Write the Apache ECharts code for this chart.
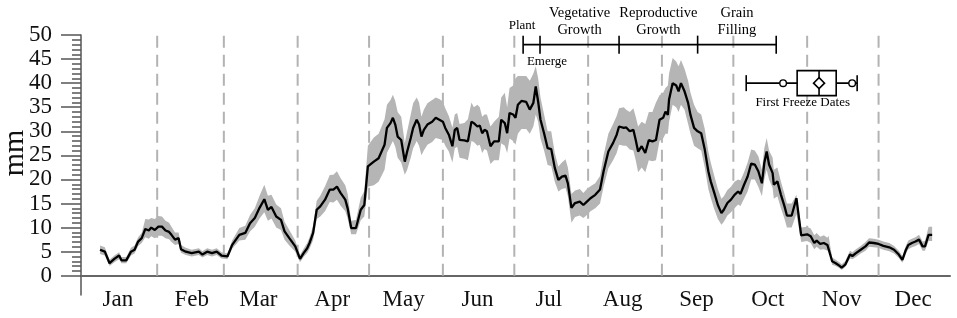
<!DOCTYPE html>
<html>
<head>
<meta charset="utf-8">
<script src="https://cdn.jsdelivr.net/npm/echarts@6/dist/echarts.min.js"></script>
<style>
html, body { margin: 0; padding: 0; background: #fff; }
#main { width: 957px; height: 318px; }
</style>
</head>
<body>
<div id="main"></div>
<script>
// months and first day of each month (day of year)
var months = ['Jan', 'Feb', 'Mar', 'Apr', 'May', 'Jun', 'Jul', 'Aug', 'Sep', 'Oct', 'Nov', 'Dec'];
var monthStart = [1, 32, 60, 91, 121, 152, 182, 213, 244, 274, 305, 335];

// daily series: day of year, mean, band low, band high
var days = [
    8, 10, 12, 14, 16, 17, 19, 21, 22.5, 24, 25.5,
    27, 28.5, 29.5, 31, 32.5, 34, 35.5, 37, 38, 39.5, 41,
    42, 44, 46.5, 49.5, 51, 53, 55, 57, 59, 61.5, 63.5,
    66.5, 69, 71, 73, 75, 77, 78.5, 80, 82, 84, 85.5,
    87.5, 90, 92, 93.5, 95, 96, 97.5, 99, 100.5, 102.5, 104.5,
    106, 107.5, 109, 111, 112, 113.5, 115.5, 117.5, 119, 120.5,
    123, 125, 127.5, 128.5, 130, 131, 132, 133, 134.5, 136,
    137, 138.5, 139.5, 141, 142, 143, 144, 145.5, 147.5, 149,
    150.5, 152, 153, 154.5, 156, 157, 158, 159, 161, 162.5,
    164, 165, 166.5, 167.5, 168.5, 169.5, 170.5, 172, 173.5, 175.5,
    176.5, 178, 179, 180, 181.5, 182.5, 183.5, 185, 187, 188.5,
    190, 191, 192, 193, 194.5, 196, 197.5, 199, 200.5, 202,
    203.5, 204.5, 206, 207.5, 209.5, 211, 212.5, 214, 216, 218,
    219.5, 221.5, 223.5, 225, 226, 228, 229, 230.5, 232, 233,
    234, 235.5, 237, 238.5, 240,
    241.5, 243, 244.5, 245.5, 246.5, 247, 248.5, 250, 251, 252,
    253.5, 255, 256, 257.5, 259, 260.5, 262, 263.5, 264.5, 266,
    267.5, 269, 270, 271.5, 273, 274.5, 276, 277, 278.5, 280,
    281.5, 283, 284.5, 286, 287, 288, 289, 290.5, 291, 292.5,
    294, 295.5, 296.5, 298.5, 300.5,
    302.5, 305, 306.5, 308, 309, 310.5, 312, 313.5, 314, 315.5,
    317, 318.5, 319.5, 321, 323, 324, 325.5, 327.5, 329.5, 331,
    333, 335, 337, 339.5, 341.5, 343.5, 345, 346.5, 347.5, 349,
    350.5, 352, 353.5, 354.5, 356, 357.5
];
var meanVal = [
    5.4, 5.0, 2.6, 3.5, 4.2, 3.2, 3.2, 5.0, 5.4, 7.1, 7.8,
    9.7, 9.4, 10.0, 9.5, 10.2, 10.2, 9.4, 9.1, 8.5, 7.5, 7.8,
    5.5, 5.0, 4.7, 5.0, 4.4, 5.0, 4.7, 5.0, 4.2, 4.0, 6.4,
    8.5, 8.9, 10.9, 12.0, 14.1, 15.9, 13.7, 14.3, 12.3, 11.6, 9.2,
    7.8, 6.1, 3.5, 4.7, 5.7, 6.8, 8.9, 13.7, 14.4, 15.8, 17.9,
    17.9, 18.5, 17.2, 15.8, 14.0, 9.9, 9.9, 13.7, 14.7, 22.7,
    23.7, 24.4, 27.2, 30.7, 31.7, 32.8, 31.4, 28.9, 28.2, 23.7,
    25.8, 28.6, 30.7, 32.4, 31.4, 28.9, 30.3, 31.4, 32.0, 32.8,
    32.4, 32.0, 30.7, 29.3, 26.9, 30.3, 30.7, 28.2, 28.1, 27.9,
    32.0, 31.7, 31.0, 31.2, 29.6, 30.3, 30.0, 26.9, 27.9, 27.9,
    32.4, 31.7, 29.6, 33.8, 33.5, 32.8, 35.5, 36.3, 36.1, 34.5,
    35.9, 39.3, 36.2, 32.4, 29.6, 26.5, 26.3, 22.4, 19.9, 20.6,
    20.8, 19.2, 14.1, 15.1, 15.4, 14.7, 15.4, 16.1, 16.8, 17.9,
    21.7, 25.8, 27.6, 29.3, 31.0, 30.7, 30.8, 30.0, 30.3, 28.2,
    25.8, 26.9, 25.5, 28.2, 27.9,
    28.2, 32.4, 32.8, 34.1, 33.4, 36.6, 40.0, 39.5, 38.3, 40.0,
    38.3, 35.9, 33.4, 30.7, 30.0, 29.6, 26.2, 21.7, 19.6, 17.2,
    14.7, 13.0, 13.7, 15.1, 15.8, 16.8, 17.5, 17.0, 18.9, 20.6,
    23.3, 23.1, 21.7, 19.2, 23.4, 25.8, 23.1, 21.3, 18.9, 19.6,
    16.8, 14.4, 12.5, 12.5, 16.1,
    8.4, 8.6, 8.2, 6.8, 7.3, 6.6, 6.8, 6.4, 6.8, 3.0,
    2.6, 2.1, 1.7, 2.3, 4.4, 4.1, 4.7, 5.4, 6.1, 6.9,
    6.8, 6.6, 6.2, 5.9, 5.4, 4.4, 3.3, 5.4, 6.4, 6.8,
    7.1, 7.5, 6.1, 6.1, 8.5, 8.5
];
var lowVal = [
    4.5, 4.2, 2.0, 2.8, 3.4, 2.6, 2.6, 4.2, 4.6, 6.2, 6.8,
    8.0, 7.7, 8.2, 7.8, 8.3, 8.3, 7.8, 7.6, 7.0, 6.4, 6.6,
    4.8, 4.3, 4.0, 4.3, 3.8, 4.3, 4.0, 4.3, 3.6, 3.4, 5.6,
    7.3, 7.5, 9.2, 10.2, 11.9, 13.2, 11.4, 11.9, 10.0, 9.5, 7.5,
    6.3, 5.0, 2.8, 3.9, 4.7, 5.6, 7.4, 11.8, 12.3, 13.4, 15.3,
    15.2, 15.8, 14.6, 13.4, 11.9, 8.6, 8.6, 11.5, 12.3, 18.5,
    18.8, 19.5, 22.0, 25.5, 27.0, 28.0, 26.8, 24.5, 23.5, 21.0,
    22.0, 24.5, 26.5, 28.0, 27.0, 25.0, 26.0, 27.2, 27.8, 28.6,
    28.4, 28.2, 27.0, 25.8, 23.5, 26.5, 26.8, 24.5, 24.3, 24.0,
    28.0, 27.8, 27.0, 27.2, 25.5, 26.3, 26.0, 23.2, 24.0, 24.0,
    27.5, 27.0, 25.5, 28.5, 28.0, 27.2, 29.5, 30.5, 30.5, 29.5,
    31.0, 33.5, 32.0, 28.5, 26.0, 23.0, 22.8, 19.5, 17.5, 18.0,
    18.2, 16.5, 11.0, 12.2, 12.5, 12.0, 12.6, 13.4, 14.0, 15.0,
    18.5, 22.3, 24.0, 25.5, 27.2, 27.0, 27.0, 26.2, 26.0, 24.0,
    21.5, 22.5, 21.5, 24.0, 23.8,
    24.0, 28.0, 28.5, 29.5, 29.5, 32.0, 35.5, 35.0, 34.0, 35.5,
    34.5, 31.5, 29.5, 27.0, 26.5, 26.0, 22.5, 18.0, 16.2, 13.8,
    11.8, 10.6, 11.2, 12.5, 13.2, 14.0, 14.8, 14.5, 16.0, 17.5,
    20.0, 20.0, 18.5, 16.5, 20.0, 22.0, 20.0, 18.2, 16.0, 16.5,
    14.0, 11.8, 10.0, 10.0, 12.8,
    7.0, 7.2, 6.8, 5.5, 6.0, 5.4, 5.5, 5.2, 5.5, 2.3,
    2.0, 1.6, 1.2, 1.8, 3.6, 3.4, 3.9, 4.6, 5.2, 6.0,
    5.9, 5.8, 5.4, 5.1, 4.6, 3.7, 2.7, 4.6, 5.5, 5.9,
    6.2, 6.6, 5.2, 5.2, 7.2, 7.2
];
var highVal = [
    6.3, 5.9, 3.3, 4.2, 4.9, 3.9, 3.9, 5.8, 6.3, 8.0, 8.9,
    11.8, 11.7, 12.0, 11.8, 12.4, 12.3, 11.4, 11.0, 10.2, 9.0, 9.0,
    6.4, 5.8, 5.4, 5.7, 5.1, 5.7, 5.4, 5.7, 4.9, 4.6, 7.3,
    9.9, 10.4, 12.6, 14.0, 16.6, 18.9, 16.6, 16.8, 14.8, 14.0, 11.2,
    9.5, 7.3, 4.3, 5.6, 6.8, 8.0, 10.4, 15.6, 16.6, 18.6, 20.9,
    21.0, 21.7, 20.3, 18.8, 17.0, 11.4, 11.6, 16.2, 17.6, 27.0,
    28.7, 29.5, 32.5, 35.5, 36.5, 37.6, 36.3, 34.0, 33.0, 27.5,
    30.0, 33.5, 35.8, 37.0, 36.0, 33.0, 34.5, 35.8, 36.5, 37.0,
    36.7, 36.2, 34.8, 33.2, 30.8, 33.5, 33.8, 31.5, 31.7, 32.5,
    36.0, 35.0, 35.5, 35.0, 33.0, 33.5, 33.5, 31.0, 32.0, 33.0,
    37.0, 38.0, 35.0, 39.0, 39.5, 41.0, 41.5, 41.5, 41.5, 40.5,
    42.0, 43.5, 41.0, 37.0, 33.5, 30.0, 30.0, 25.5, 22.7, 23.5,
    24.2, 22.5, 17.0, 17.7, 18.0, 17.2, 18.0, 18.6, 19.2, 20.7,
    25.0, 29.5, 31.5, 33.2, 34.8, 35.0, 34.5, 34.0, 34.8, 33.0,
    31.0, 32.0, 31.5, 34.0, 34.0,
    36.0, 37.5, 38.0, 39.0, 39.5, 42.0, 45.2, 44.5, 43.5, 44.8,
    43.0, 40.5, 38.0, 35.5, 34.0, 33.5, 30.5, 25.8, 23.5, 20.7,
    18.0, 16.0, 16.5, 17.8, 18.5, 19.5, 20.0, 19.8, 21.5, 23.5,
    26.2, 26.0, 24.8, 22.0, 26.5, 28.6, 26.0, 24.5, 22.0, 22.5,
    19.5, 17.0, 15.0, 15.0, 16.8,
    10.0, 10.2, 9.8, 8.4, 8.9, 8.1, 8.4, 7.9, 8.3, 3.8,
    3.3, 2.8, 2.4, 3.0, 5.2, 4.9, 5.5, 6.2, 7.0, 7.8,
    7.7, 7.5, 7.1, 6.8, 6.2, 5.2, 4.1, 6.3, 7.3, 7.7,
    8.0, 8.5, 7.1, 7.2, 10.2, 10.2
];

// crop stages (day of year): plant, emerge, end vegetative, end reproductive, end grain filling
var stageDays = [185.7, 192.8, 226, 259, 292];
var stageNames = ['Vegetative\nGrowth', 'Reproductive\nGrowth', 'Grain\nFilling'];
var stageLevel = 48;

// first freeze dates box plot (day of year)
var freezeWhisker = [279.4, 326];
var freezeOutliers = [294.9, 323.9];
var freezeBox = [300.8, 310, 317.2];
var freezeMean = 310;
var freezeLevel = 40;

var majorTicks = [];
var minorTicks = [];
for (var v = 0; v <= 50; v++) {
    if (v % 5 === 0) majorTicks.push(v); else minorTicks.push(v);
}
var monthMid = monthStart.map(function(d) { return d + 14.5; });

var serif = '"Liberation Serif", "Times New Roman", serif';
var myChart = echarts.init(document.getElementById('main'));

function renderDashes(params, api) {
    var kids = [];
    for (var i = 1; i < monthStart.length; i++) {
        var p0 = api.coord([monthStart[i], 0]);
        var p1 = api.coord([monthStart[i], 50]);
        kids.push({
            type: 'line',
            shape: { x1: p0[0], y1: p0[1], x2: p1[0], y2: p1[1] },
            style: { stroke: '#b3b3b3', lineWidth: 2, lineDash: [12, 7] }
        });
    }
    return { type: 'group', children: kids };
}

function renderBand(params, api) {
    var pts = [];
    for (var i = 0; i < days.length; i++) pts.push(api.coord([days[i], highVal[i]]));
    for (var j = days.length - 1; j >= 0; j--) pts.push(api.coord([days[j], lowVal[j]]));
    return { type: 'polygon', shape: { points: pts }, style: { fill: '#b5b5b5' } };
}

function txt(x, y, s, size) {
    return {
        type: 'text',
        style: {
            x: x, y: y, text: s, fill: '#000',
            font: size + 'px ' + serif, lineHeight: 17,
            align: 'center', verticalAlign: 'middle',
            textAlign: 'center', textVerticalAlign: 'middle'
        }
    };
}

function seg(x1, y1, x2, y2) {
    return {
        type: 'line',
        shape: { x1: x1, y1: y1, x2: x2, y2: y2 },
        style: { stroke: '#000', lineWidth: 1.6 }
    };
}

function renderNotes(params, api) {
    var kids = [];
    var yb = api.coord([0, stageLevel])[1];
    var xs = stageDays.map(function(d) { return api.coord([d, 0])[0]; });
    kids.push(seg(xs[0], yb, xs[xs.length - 1], yb));
    xs.forEach(function(x) { kids.push(seg(x, yb - 9, x, yb + 9)); });
    kids.push(txt(xs[0] - 1, yb - 19, 'Plant', 13));
    kids.push(txt(xs[1] + 7, yb + 17, 'Emerge', 13));
    for (var i = 0; i < stageNames.length; i++) {
        kids.push(txt((xs[i + 1] + xs[i + 2]) / 2, yb - 23, stageNames[i], 14.5));
    }

    // box plot of first freeze dates
    var yf = api.coord([0, freezeLevel])[1];
    var wx = freezeWhisker.map(function(d) { return api.coord([d, 0])[0]; });
    var bx = freezeBox.map(function(d) { return api.coord([d, 0])[0]; });
    var mx = api.coord([freezeMean, 0])[0];
    kids.push(seg(wx[0], yf, wx[1], yf));
    kids.push(seg(wx[0], yf - 8, wx[0], yf + 8));
    kids.push(seg(wx[1], yf - 8, wx[1], yf + 8));
    kids.push({
        type: 'rect',
        shape: { x: bx[0], y: yf - 12.5, width: bx[2] - bx[0], height: 25 },
        style: { fill: '#fff', stroke: '#000', lineWidth: 1.6 }
    });
    kids.push(seg(bx[1], yf - 12.5, bx[1], yf + 12.5));
    kids.push({
        type: 'polygon',
        shape: { points: [[mx, yf - 5.5], [mx + 5.5, yf], [mx, yf + 5.5], [mx - 5.5, yf]] },
        style: { fill: '#fff', stroke: '#000', lineWidth: 1.6 }
    });
    freezeOutliers.forEach(function(d) {
        var ox = api.coord([d, 0])[0];
        kids.push({
            type: 'circle',
            shape: { cx: ox, cy: yf, r: 3.3 },
            style: { fill: '#fff', stroke: '#000', lineWidth: 1.4 }
        });
    });
    kids.push(txt((wx[0] + wx[1]) / 2 + 1, yf + 19, 'First Freeze Dates', 13));
    return { type: 'group', children: kids };
}

var option = {
    animation: false,
    grid: { left: 81, right: 7, top: 35, bottom: 23, containLabel: false, outerBoundsMode: 'none' },
    graphic: [{
        type: 'text',
        x: 15, y: 153,
        rotation: Math.PI / 2,
        style: {
            text: 'mm', fill: '#111', font: '30px ' + serif,
            align: 'center', verticalAlign: 'middle',
            textAlign: 'center', textVerticalAlign: 'middle'
        }
    }],
    xAxis: {
        type: 'value',
        min: 0,
        max: 365,
        axisLine: { show: true, onZero: true, lineStyle: { color: '#666', width: 2 } },
        axisTick: { show: false },
        splitLine: { show: false },
        axisLabel: {
            customValues: monthMid,
            margin: -7,
            fontSize: 23,
            fontFamily: serif,
            color: '#111',
            formatter: function(v) {
                var i = monthMid.indexOf(v);
                return i >= 0 ? months[i] : '';
            }
        }
    },
    yAxis: [{
        type: 'value',
        position: 'left',
        min: -4,
        max: 50,
        axisLine: { show: true, onZero: true, lineStyle: { color: '#555', width: 1.5 } },
        axisTick: { show: true, customValues: majorTicks, length: 20, lineStyle: { color: '#555', width: 1.5 } },
        axisLabel: { customValues: majorTicks, margin: 29, fontSize: 23, fontFamily: serif, color: '#111' },
        splitLine: { show: false }
    }, {
        type: 'value',
        position: 'left',
        min: -4,
        max: 50,
        axisLine: { show: false, onZero: true },
        axisTick: { show: true, customValues: minorTicks, length: 9, lineStyle: { color: '#555', width: 1.5 } },
        axisLabel: { show: false },
        splitLine: { show: false }
    }],
    series: [{
        type: 'custom',
        name: 'months',
        renderItem: renderDashes,
        data: [[0, 0]],
        silent: true,
        z: 1
    }, {
        type: 'custom',
        name: 'range',
        renderItem: renderBand,
        data: [[0, 0]],
        silent: true,
        z: 2
    }, {
        type: 'line',
        name: 'mean',
        data: days.map(function(d, i) { return [d, meanVal[i]]; }),
        showSymbol: false,
        lineStyle: { color: '#000', width: 2.3 },
        z: 3
    }, {
        type: 'custom',
        name: 'notes',
        renderItem: renderNotes,
        data: [[0, 0]],
        silent: true,
        z: 4
    }]
};

myChart.setOption(option);
</script>
</body>
</html>
